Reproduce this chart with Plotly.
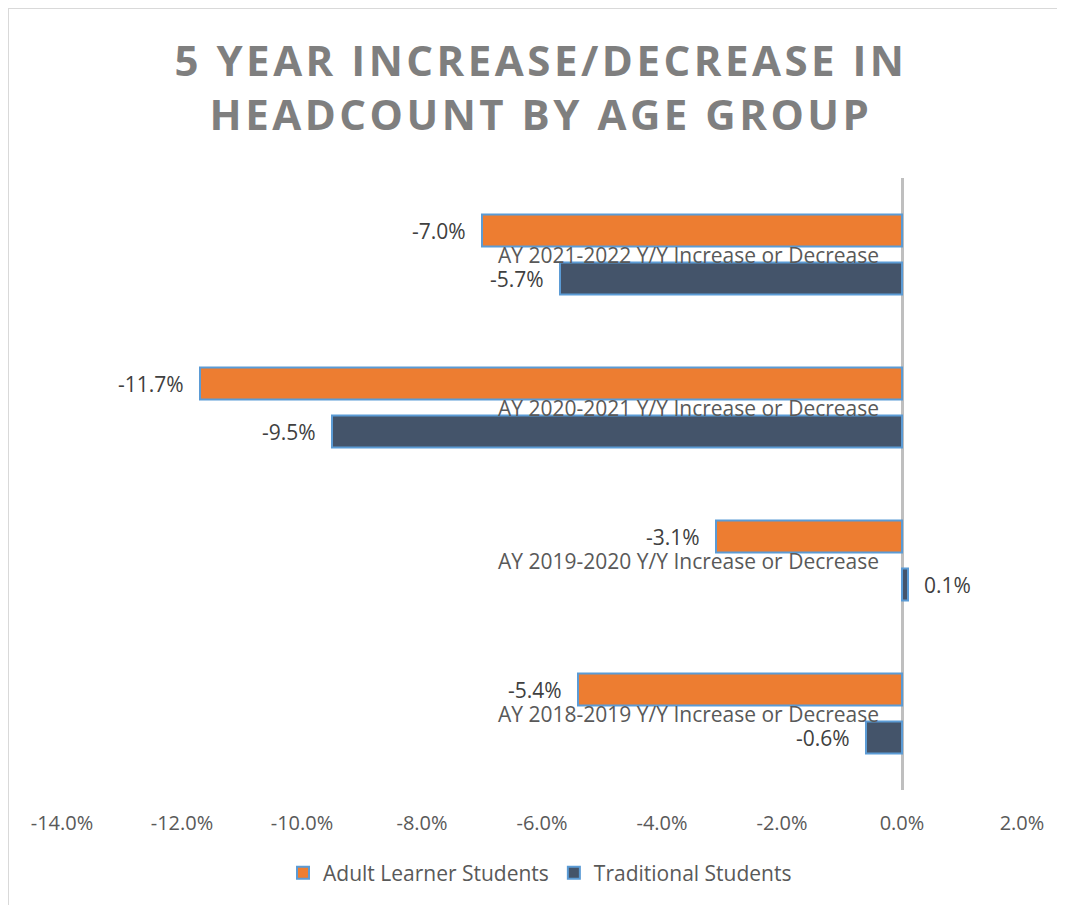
import plotly.graph_objects as go

categories = [
    "AY 2018-2019 Y/Y Increase or Decrease",
    "AY 2019-2020 Y/Y Increase or Decrease",
    "AY 2020-2021 Y/Y Increase or Decrease",
    "AY 2021-2022 Y/Y Increase or Decrease",
]
adult_learner = [-5.4, -3.1, -11.7, -7.0]
traditional = [-0.6, 0.1, -9.5, -5.7]
tick_values = [-14, -12, -10, -8, -6, -4, -2, 0, 2]
tick_labels = ["-14.0%", "-12.0%", "-10.0%", "-8.0%", "-6.0%", "-4.0%", "-2.0%", "0.0%", "2.0%"]

FONT = "Open Sans"
ORANGE = "#ED7D31"
SLATE = "#44546A"
EDGE = "#5B9BD5"

fig = go.Figure()
# Traditional first so that it sits below the orange bar in each group
fig.add_trace(go.Bar(
    y=categories, x=traditional, orientation="h", name="Traditional Students",
    marker=dict(color=SLATE, line=dict(color=EDGE, width=2)), legendrank=2,
))
fig.add_trace(go.Bar(
    y=categories, x=adult_learner, orientation="h", name="Adult Learner Students",
    marker=dict(color=ORANGE, line=dict(color=EDGE, width=2)), legendrank=1,
))

def fmt(v):
    return f"{v:.1f}%"

annotations = []
for cat, a, t in zip(categories, adult_learner, traditional):
    annotations.append(dict(x=0, y=cat, xref="x", yref="y", text=cat, showarrow=False,
                            xanchor="right", xshift=-21, yshift=0,
                            font=dict(family=FONT, size=21, color="#595959")))
    for v, ys in ((a, 24), (t, -24)):
        annotations.append(dict(x=v, y=cat, xref="x", yref="y", text=fmt(v), showarrow=False,
                                xanchor="right" if v < 0 else "left",
                                xshift=-14 if v < 0 else 14, yshift=ys,
                                font=dict(family=FONT, size=21, color="#404040")))

# page body has an 8px margin: figure pixel = page pixel - 8
OFF = 8
W, H = 1065 - OFF, 905 - OFF
L, T = 62 - OFF, 178 - OFF
R = W - (1022 - OFF)
B = H - (790 - OFF)
pw, ph = W - L - R, H - T - B
def px_x(p):
    return (p - OFF - L) / pw
def px_y(p):
    return (H - B - (p - OFF)) / ph

shapes = [
    dict(type="line", xref="paper", yref="paper", x0=-L / pw, x1=-L / pw,
         y0=(H - B) / ph, y1=-B / ph, line=dict(color="#D9D9D9", width=2)),
    dict(type="line", xref="paper", yref="paper", x0=-L / pw, x1=(W - L) / pw,
         y0=(H - B) / ph, y1=(H - B) / ph, line=dict(color="#D9D9D9", width=2)),
]

title_text = ('<span style="letter-spacing:3.5px">5 YEAR INCREASE/DECREASE IN</span><br>'
              '<span style="letter-spacing:3.5px">HEADCOUNT BY AGE GROUP</span>')

fig.update_layout(
    width=W, height=H,
    margin=dict(l=L, r=R, t=T, b=B),
    paper_bgcolor="white", plot_bgcolor="white",
    barmode="group", bargap=0.3725, bargroupgap=1 / 3,
    title=dict(text=title_text,
               x=px_x(541), xref="paper", xanchor="center",
               y=1 - (75.5 - OFF) / H, yref="container", yanchor="middle",
               font=dict(family=FONT, size=42, color="#7F7F7F", weight="bold")),
    xaxis=dict(range=[-14, 2], tickvals=tick_values, ticktext=tick_labels,
               showgrid=False, showline=False, zeroline=True, zerolinecolor="#BFBFBF",
               zerolinewidth=3, ticks="", ticklabelstandoff=19,
               tickfont=dict(family=FONT, size=20, color="#595959")),
    yaxis=dict(showticklabels=False, showgrid=False, showline=False, zeroline=False,
               ticks="", categoryorder="array", categoryarray=categories),
    legend=dict(orientation="h", x=px_x(540), xanchor="center", y=px_y(873), yanchor="middle",
                font=dict(family=FONT, size=21, color="#595959"), traceorder="normal"),
    annotations=annotations,
    shapes=shapes,
    showlegend=True,
)

fig.write_html("out.html")
